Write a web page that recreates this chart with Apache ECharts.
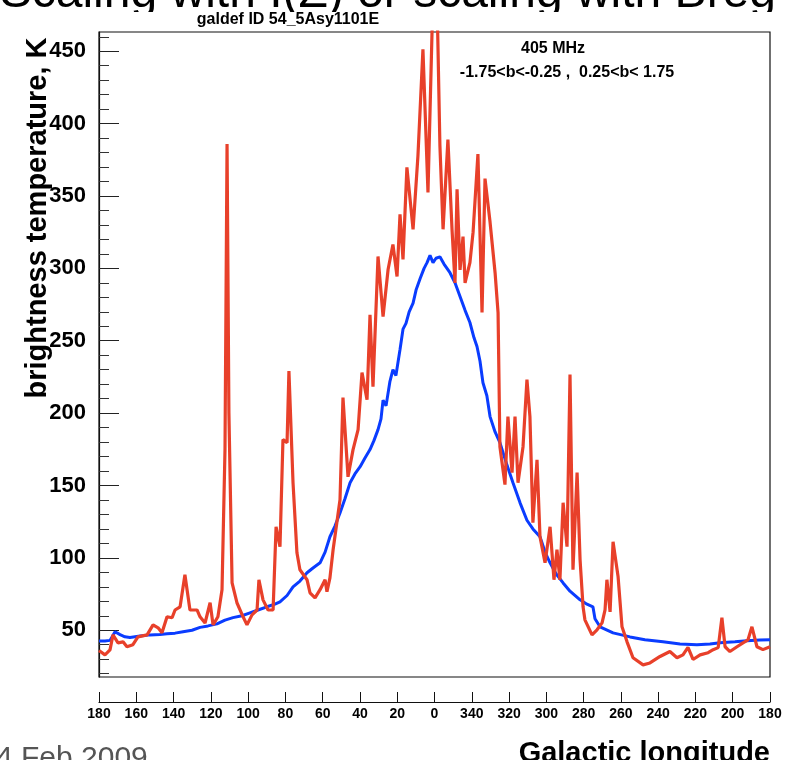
<!DOCTYPE html>
<html>
<head>
    <meta charset="UTF-8">
    <title>galdef ID 54_5Asy1101E</title>
    <script src="https://cdn.jsdelivr.net/npm/echarts@6/dist/echarts.min.js"></script>
    <style>
        html, body { margin: 0; padding: 0; background: #fff; }
        #main { width: 789px; height: 760px; }
    </style>
</head>
<body>
<div id="main"></div>
<script type="text/javascript">
    // longitude in degrees, -180..180 (labels shown as 0..360 on the right half)
    var blueLon = [180, 176.8, 174.1, 171.4, 168.7, 166.1, 163.4, 158.0, 152.6, 147.3, 143.5, 139.2, 134.9, 130.1,
        125.8, 121.5, 116.7, 112.4, 108.1, 103.3, 99.0, 94.7, 89.9, 85.6, 82.9, 79.1, 75.9, 72.2, 68.4, 65.2, 61.4,
        58.7, 56.1, 53.4, 50.7, 48.0, 45.3, 42.7, 39.9, 37.3, 34.6, 32.5, 30.3, 28.7, 27.6, 26.0, 23.9, 22.3, 20.7,
        18.5, 16.9, 15.3, 13.6, 11.5, 9.9, 7.7, 5.6, 4.0, 2.4, 0.8, -0.8, -2.9, -5.1, -6.7, -8.3, -11.0, -13.7,
        -16.4, -19.0, -21.2, -22.8, -24.4, -26.0, -28.1, -29.8, -32.5, -35.1, -38.4, -42.1, -45.9, -49.6, -52.8,
        -56.6, -59.3, -62.0, -65.2, -69.0, -72.7, -78.1, -81.8, -85.0, -86.1, -88.8, -95.8, -104.9, -112.9, -122.6,
        -131.7, -140.8, -147.8, -153.2, -161.2, -167.7, -174.6, -180];
    var blueT = [42.5, 42.6, 43, 49, 47, 45.5, 45, 46, 46.8, 47, 47.5, 48, 49, 50,
        52, 53, 54.4, 57, 58.7, 60, 62, 64, 66.2, 68, 69.6, 74, 80, 84, 89.7, 93, 96.6,
        104, 114.6, 122, 131, 141, 151.9, 158, 163, 169, 174.8, 181, 188.6, 196, 209, 205, 222, 230, 226,
        244, 258, 262, 270, 276, 285, 293, 300, 304, 309, 304, 307, 308, 303, 300, 297, 290, 280.6,
        271, 262.6, 252, 246, 236, 221, 212, 197.6, 187, 179.6, 166, 151.9, 138, 126, 120,
        114.6, 104, 96.6, 89, 82.7, 77, 71, 68, 66.2, 58, 52.4, 48.2, 45.4, 43.5, 42,
        40.5, 40, 40.5, 41.4, 42, 42.8, 43.2, 43.5];

    var redLon = [180, 179.5, 176.8, 174.1, 172.5, 169.8, 167.1, 165.0, 161.8, 159.1, 154.2, 151.0, 148.3, 146.2,
        143.5, 140.8, 139.2, 136.5, 133.9, 131.2, 127.4, 125.8, 123.1, 120.4, 118.8, 116.2, 114.0, 112.4, 111.3,
        110.3, 108.6, 106.0, 102.7, 100.6, 97.9, 95.2, 94.2, 92.0, 89.3, 86.6, 85.0, 82.9, 81.3, 79.1, 78.1, 75.9,
        73.8, 72.2, 68.4, 66.8, 64.1, 61.4, 58.7, 57.7, 56.1, 54.4, 50.7, 49.1, 46.4, 43.7, 41.0, 38.9, 36.2, 34.6,
        33.0, 30.3, 27.6, 24.9, 22.3, 20.1, 18.5, 16.9, 14.8, 11.5, 8.9, 6.2, 3.5, 0.8, -1.3, -2.9, -4.6, -7.2,
        -9.4, -11.0, -12.1, -13.7, -15.3, -16.4, -19.0, -20.7, -23.3, -25.5, -27.1, -29.8, -32.5, -34.1, -35.1,
        -37.8, -39.4, -41.6, -43.2, -44.8, -47.5, -49.6, -51.2, -52.8, -55.0, -56.6, -59.3, -62.0, -64.1, -65.7,
        -67.3, -69.0, -71.1, -72.7, -74.3, -76.5, -78.1, -79.7, -80.7, -84.5, -87.2, -89.9, -91.5, -92.5, -94.2,
        -95.8, -98.5, -100.6, -103.3, -106.5, -111.9, -115.6, -121.0, -126.3, -130.1, -133.3, -136.0, -138.7,
        -142.5, -146.8, -149.5, -152.2, -154.2, -155.9, -158.5, -162.3, -165.5, -168.2, -170.3, -173.0, -176.2,
        -180];
    var redT = [36, 35.3, 33, 36.4, 46.8, 41.3, 42, 38.6, 40, 45.4, 46.8, 53.7, 51.7, 48.2,
        59.3, 58.6, 64, 66.2, 88.3, 64, 64, 59.3, 55, 69, 53.7, 59.3, 78, 175, 386,
        200, 82.8, 69, 59.3, 53.7, 60.6, 64, 84.9, 71, 64, 64, 121.5, 107.7, 181.7, 179.6, 229, 151.9,
        103.5, 91.8, 84.9, 75.9, 72.4, 78, 84.9, 76.6, 86.2, 105.6, 140.2, 210.7, 156, 174.8, 188.6, 228, 209.3, 268,
        218.3, 308.2, 266.7, 299.2, 316.5, 294.4, 337.3, 306.2, 369.8, 327, 377.4, 451.4, 352.5, 490, 490, 385, 327, 389,
        327, 290, 354.6, 299, 322, 290, 304, 325, 379, 269.5, 362, 332, 297, 269.5, 176.8,
        150.6, 197.6, 158.9, 197.6, 151.9, 176.8, 223.2, 197.6, 124.3, 167.8, 114.6, 96.6, 121.5, 84.9, 105.6,
        84.9, 138.1, 107.7, 226.6, 91.8, 158.9, 98.7, 66.2, 57.2, 46.8, 50.3, 55.1, 64.1, 84.9, 62.7,
        111.1, 86.9, 52.4, 42, 31, 26.1, 27.4, 31.9, 35.3, 31, 33, 38.1, 29.8,
        33, 34.5, 36.6, 38, 58.7, 38.6, 35.3, 38.6, 41.3, 43.4, 52.4, 38.6, 36.6,
        38.6];

    var yMajorTicks = [50, 100, 150, 200, 250, 300, 350, 400, 450];
    var yMinorTicks = [];
    for (var v = 20; v <= 460; v += 10) {
        if (v % 50 !== 0) yMinorTicks.push(v);
    }
    var yMin = 17.7, yMax = 463.3;

    function pairs(xs, ys) {
        return xs.map(function (x, i) { return [x, ys[i]]; });
    }

    var font = 'Liberation Sans, Arial, Helvetica, sans-serif';
    var myChart = echarts.init(document.getElementById('main'));

    var option = {
        animation: false,
        backgroundColor: '#ffffff',
        grid: {
            left: 99, right: 19, top: 32, bottom: 83,
            show: true, borderColor: '#111', borderWidth: 1.2, backgroundColor: 'transparent'
        },
        xAxis: {
            type: 'value', min: -180, max: 180, interval: 20, inverse: true,
            offset: 25,
            axisLine: {show: true, onZero: false, lineStyle: {color: '#111', width: 1.2}},
            axisTick: {show: true, inside: true, length: 10, lineStyle: {color: '#111'}},
            splitLine: {show: false},
            axisLabel: {
                show: true, margin: 5, color: '#000', fontFamily: font, fontWeight: 'bold', fontSize: 14,
                showMinLabel: true, showMaxLabel: true,
                formatter: function (v) { return String(v < 0 ? v + 360 : v); }
            }
        },
        yAxis: [
            {
                type: 'value', min: yMin, max: yMax, position: 'left',
                axisLine: {show: true, onZero: false, lineStyle: {color: '#111', width: 1.2}},
                axisTick: {show: true, inside: true, length: 20, customValues: yMajorTicks, lineStyle: {color: '#222'}},
                splitLine: {show: false},
                axisLabel: {
                    show: true, margin: 13, customValues: yMajorTicks, color: '#000',
                    fontFamily: font, fontWeight: 'bold', fontSize: 22
                }
            },
            {
                type: 'value', min: yMin, max: yMax, position: 'left',
                axisLine: {show: false, onZero: false},
                axisTick: {show: true, inside: true, length: 10, customValues: yMinorTicks, lineStyle: {color: '#333'}},
                splitLine: {show: false},
                axisLabel: {show: false}
            }
        ],
        series: [
            {
                name: 'model', type: 'line', data: pairs(blueLon, blueT), showSymbol: false,
                lineStyle: {color: '#0a3cff', width: 3}, clip: true
            },
            {
                name: 'data', type: 'line', data: pairs(redLon, redT), showSymbol: false,
                lineStyle: {color: '#e8402a', width: 3.2}, clip: true
            }
        ],
        graphic: [
            {
                type: 'text', z: 1, style: {
                    x: 776, y: 18, text: 'Scaling with I(Z) or scaling with Breg',
                    font: '48px ' + font, fill: '#000', textAlign: 'right', textVerticalAlign: 'bottom'
                }
            },
            {
                type: 'rect', z: 2, shape: {x: 0, y: 12, width: 789, height: 19},
                style: {fill: '#ffffff'}
            },
            {
                type: 'text', z: 3, style: {
                    x: 288, y: 20, text: 'galdef ID 54_5Asy1101E',
                    font: 'bold 16px ' + font, fill: '#000', textAlign: 'center', textVerticalAlign: 'middle'
                }
            },
            {
                type: 'text', style: {
                    x: 553, y: 49, text: '405 MHz',
                    font: 'bold 16px ' + font, fill: '#000', textAlign: 'center', textVerticalAlign: 'middle'
                }
            },
            {
                type: 'text', style: {
                    x: 567, y: 73, text: '-1.75<b<-0.25 ,  0.25<b< 1.75',
                    font: 'bold 16px ' + font, fill: '#000', textAlign: 'center', textVerticalAlign: 'middle'
                }
            },
            {
                type: 'text', x: 38, y: 218, rotation: Math.PI / 2, style: {
                    x: 0, y: 0, text: 'brightness temperature, K',
                    font: 'bold 29px ' + font, fill: '#000', textAlign: 'center', textVerticalAlign: 'middle'
                }
            },
            {
                type: 'text', style: {
                    x: 770, y: 739, text: 'Galactic longitude',
                    font: 'bold 29px ' + font, fill: '#000', textAlign: 'right', textVerticalAlign: 'top'
                }
            },
            {
                type: 'text', style: {
                    x: -4, y: 744, text: '4 Feb 2009',
                    font: '30px ' + font, fill: '#555', textAlign: 'left', textVerticalAlign: 'top'
                }
            }
        ]
    };

    myChart.setOption(option);
</script>
</body>
</html>
